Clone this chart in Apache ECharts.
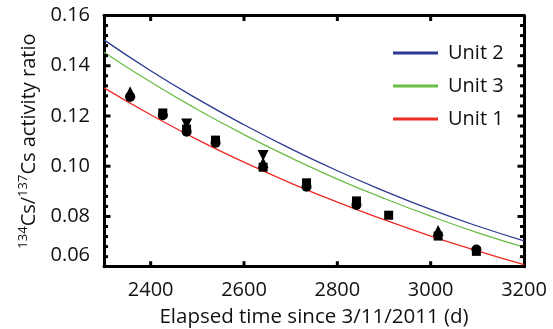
<!DOCTYPE html>
<html>
<head>
<meta charset="utf-8">
<script src="https://cdn.jsdelivr.net/npm/echarts@6/dist/echarts.min.js"></script>
<style>
html,body{margin:0;padding:0;background:#fff;}
#chart{width:553px;height:329px;}
</style>
</head>
<body>
<div id="chart"></div>
<script>
// Curve sample days and values
const days = [2300, 2400, 2500, 2600, 2700, 2800, 2900, 3000, 3100, 3200];
const unit2 = [0.1503, 0.1380, 0.1268, 0.1165, 0.1070, 0.0982, 0.0902, 0.0828, 0.0762, 0.0703];
const unit3 = [0.1454, 0.1335, 0.1226, 0.1126, 0.1034, 0.0949, 0.0872, 0.0801, 0.0736, 0.0678];
const unit1 = [0.1312, 0.1205, 0.1106, 0.1016, 0.0933, 0.0857, 0.0787, 0.0722, 0.0663, 0.0608];

// Measured points [day, ratio]
const circles = [[2356, 0.1276], [2426, 0.1203], [2477, 0.1137], [2539, 0.1093], [2734, 0.0918], [2841, 0.0846], [3098, 0.0668]];
const squares = [[2426, 0.1212], [2477, 0.1148], [2539, 0.1104], [2641, 0.0996], [2734, 0.0934], [2841, 0.0862], [2910, 0.0805], [3016, 0.0722], [3098, 0.0661]];
const triangles = [[2356, 0.1296], [2641, 0.1014], [3016, 0.0744]];
const trianglesDown = [[2477, 0.1168], [2641, 0.1043]];

// Tick values
const xTicks = [2400, 2600, 2800, 3000, 3200];
const xTickMarks = [2400, 2600, 2800, 3000];
const yMajorMarks = [0.08, 0.10, 0.12, 0.14];
const yMinorMarks = [0.064, 0.068, 0.072, 0.076, 0.084, 0.088, 0.092, 0.096, 0.104, 0.108, 0.112, 0.116,
                     0.124, 0.128, 0.132, 0.136, 0.144, 0.148, 0.152, 0.156];

const X_MIN = 2300, X_MAX = 3200, Y_MIN = 0.06, Y_MAX = 0.16;
const FONT = 'Open Sans';
const pair = (xs, ys) => xs.map((x, i) => [x, ys[i]]);

const chart = echarts.init(document.getElementById('chart'), null, {renderer: 'canvas'});

const frameY = (pos, showLabel) => ({
  type: 'value', position: pos, min: Y_MIN, max: Y_MAX, interval: 0.02,
  axisLine: {show: true, lineStyle: {color: '#000', width: 3}},
  axisTick: {show: false},
  splitLine: {show: false},
  axisLabel: showLabel ? {
    show: true, margin: 14, fontFamily: FONT, fontSize: 20, color: '#111',
    formatter: v => {
      const s = v.toFixed(2);
      return Math.abs(v - 0.06) < 1e-9 ? '{lo|' + s + '}' : s;
    },
    rich: {lo: {fontFamily: FONT, fontSize: 20, color: '#111', padding: [0, 0, 22, 0]}}
  } : {show: false},
  name: showLabel ? '{s|134}{n|Cs/}{s|137}{n|Cs activity ratio}' : '',
  nameLocation: 'middle', nameGap: 61, nameRotate: 90,
  nameTextStyle: {
    fontFamily: FONT, fontSize: 20, color: '#111',
    rich: {
      s: {fontFamily: FONT, fontSize: 13, color: '#111', verticalAlign: 'top', lineHeight: 20, padding: [0, 0, 6, 0]},
      n: {fontFamily: FONT, fontSize: 20, color: '#111', lineHeight: 26}
    }
  }
});

const frameX = (pos, showLabel) => ({
  type: 'value', position: pos, min: X_MIN, max: X_MAX,
  axisLine: {show: true, lineStyle: {color: '#000', width: 3}},
  axisTick: {show: false},
  splitLine: {show: false},
  axisLabel: showLabel ? {show: true, margin: 14, fontFamily: FONT, fontSize: 20, color: '#111',
    customValues: xTicks, formatter: v => String(v)} : {show: false},
  name: showLabel ? 'Elapsed time since 3/11/2011 (d)' : '',
  nameLocation: 'middle', nameGap: 40,
  nameTextStyle: {fontFamily: FONT, fontSize: 20.5, color: '#111'}
});

const lineSeries = (name, data, color) => ({
  name, type: 'line', data: pair(days, data), smooth: true, showSymbol: false,
  lineStyle: {color, width: 1.3}, itemStyle: {color}, z: 3, silent: true
});

const scatter = (data, symbol, size, rotate) => ({
  type: 'scatter', data, symbol, symbolSize: size, symbolRotate: rotate || 0,
  itemStyle: {color: '#000', opacity: 1}, z: 4, silent: true
});

// y ticks on left and right frame edges, positioned through the axis scale
const yTickSeries = (vals, len) => ({
  type: 'custom', silent: true, z: 5, clip: false,
  data: vals.map(v => [X_MIN, v]),
  renderItem: (params, api) => {
    const l = api.coord([X_MIN, api.value(1)]);
    const r = api.coord([X_MAX, api.value(1)]);
    const st = {stroke: '#000', lineWidth: 3, fill: null};
    return {type: 'group', children: [
      {type: 'line', shape: {x1: l[0], y1: l[1], x2: l[0] + len, y2: l[1]}, style: st},
      {type: 'line', shape: {x1: r[0], y1: r[1], x2: r[0] - len, y2: r[1]}, style: st}
    ]};
  }
});
// x ticks on bottom and top frame edges
const xTickSeries = (vals, len) => ({
  type: 'custom', silent: true, z: 5, clip: false,
  data: vals.map(v => [v, Y_MIN]),
  renderItem: (params, api) => {
    const b = api.coord([api.value(0), Y_MIN]);
    const t = api.coord([api.value(0), Y_MAX]);
    const st = {stroke: '#000', lineWidth: 3, fill: null};
    return {type: 'group', children: [
      {type: 'line', shape: {x1: b[0], y1: b[1], x2: b[0], y2: b[1] - len}, style: st},
      {type: 'line', shape: {x1: t[0], y1: t[1], x2: t[0], y2: t[1] + len}, style: st}
    ]};
  }
});

chart.setOption({
  animation: false,
  backgroundColor: '#fff',
  grid: {left: 104, right: 29, top: 15.5, bottom: 62.3, show: false, containLabel: false, outerBoundsMode: 'none'},
  xAxis: [frameX('bottom', true), frameX('top', false)],
  yAxis: [frameY('left', true), frameY('right', false)],
  legend: {
    orient: 'vertical', left: 388, top: 38, itemWidth: 45, itemHeight: 3, itemGap: 13,
    icon: 'rect',
    textStyle: {fontFamily: FONT, fontSize: 20, color: '#111', padding: [0, 0, 0, 5], lineHeight: 20},
    data: ['Unit 2', 'Unit 3', 'Unit 1']
  },
  series: [
    lineSeries('Unit 2', unit2, '#2B3990'),
    lineSeries('Unit 3', unit3, '#6ABD45'),
    lineSeries('Unit 1', unit1, '#EE2A24'),
    scatter(circles, 'circle', 10),
    scatter(squares, 'rect', 9),
    scatter(triangles, 'triangle', 11),
    scatter(trianglesDown, 'triangle', 11, 180),
    yTickSeries(yMajorMarks, 6.5),
    yTickSeries(yMinorMarks, 4),
    xTickSeries(xTickMarks, 5.5)
  ]
});
</script>
</body>
</html>
